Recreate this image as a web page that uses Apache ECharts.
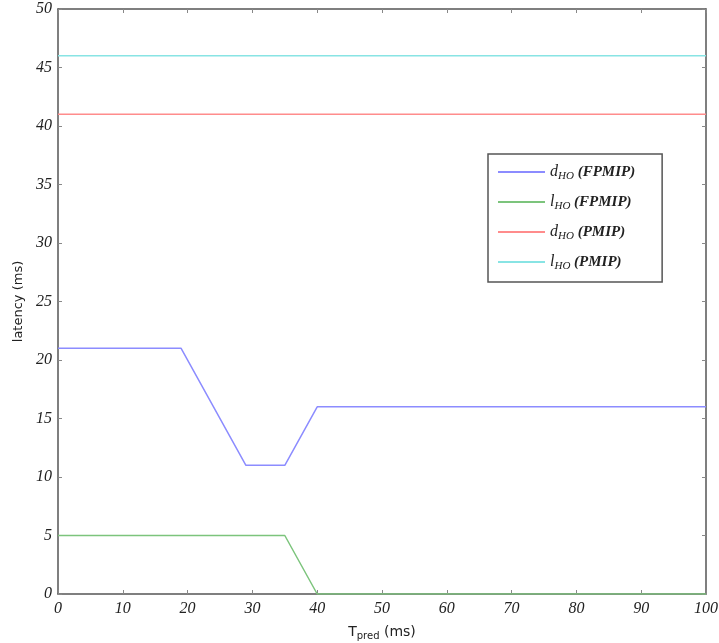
<!DOCTYPE html>
<html>
<head>
<meta charset="utf-8">
<script src="https://cdn.jsdelivr.net/npm/echarts@6/dist/echarts.min.js"></script>
<style>html,body{margin:0;padding:0;background:#fff;}#c{width:719px;height:643px;}</style>
</head>
<body>
<div id="c"></div>
<script>
var dFpmipX = [0, 19, 29, 35, 40, 100];
var dFpmipY = [21, 21, 11, 11, 16, 16];
var lFpmipX = [0, 35, 40, 100];
var lFpmipY = [5, 5, 0, 0];
var dPmipX = [0, 100];
var dPmipY = [41, 41];
var lPmipX = [0, 100];
var lPmipY = [46, 46];
var seriesNames = ['dHO (FPMIP)', 'lHO (FPMIP)', 'dHO (PMIP)', 'lHO (PMIP)'];
var legendLabels = {
  'dHO (FPMIP)': '{v|d}{s|HO}{t| (FPMIP)}',
  'lHO (FPMIP)': '{v|l}{s|HO}{t| (FPMIP)}',
  'dHO (PMIP)': '{v|d}{s|HO}{t| (PMIP)}',
  'lHO (PMIP)': '{v|l}{s|HO}{t| (PMIP)}'
};
var xTicks = [0, 10, 20, 30, 40, 50, 60, 70, 80, 90, 100];
var yTicks = [0, 5, 10, 15, 20, 25, 30, 35, 40, 45, 50];

function zip(xs, ys) { return xs.map(function (x, i) { return [x, ys[i]]; }); }

var chart = echarts.init(document.getElementById('c'));
var tickFont = { fontFamily: 'Liberation Serif', fontStyle: 'italic', fontSize: 16, color: '#222' };
var axisLine = { show: true, onZero: false, lineStyle: { color: '#555', width: 1.5 } };
var axisTick = { show: true, inside: true, length: 4, lineStyle: { color: '#888', width: 1 } };

chart.setOption({
  animation: false,
  backgroundColor: '#fff',
  grid: { left: 58, top: 9, right: 13, bottom: 49, outerBoundsMode: 'none', containLabel: false },
  xAxis: [
    {
      type: 'value', min: 0, max: 100, interval: 10, position: 'bottom',
      axisLine: axisLine, axisTick: axisTick, splitLine: { show: false },
      axisLabel: Object.assign({ margin: 7 }, tickFont),
      name: '{m|T}{s|pred}{m| (ms)}', nameLocation: 'middle', nameGap: 29,
      nameTextStyle: {
        rich: {
          m: { fontFamily: 'DejaVu Sans', fontSize: 14, color: '#222' },
          s: { fontFamily: 'DejaVu Sans', fontSize: 10, color: '#222', verticalAlign: 'bottom', padding: [8, 0, 0, 0] }
        }
      }
    },
    {
      type: 'value', min: 0, max: 100, interval: 10, position: 'top',
      axisLine: axisLine, axisTick: axisTick, splitLine: { show: false }, axisLabel: { show: false }
    }
  ],
  yAxis: [
    {
      type: 'value', min: 0, max: 50, interval: 5, position: 'left',
      axisLine: axisLine, axisTick: axisTick, splitLine: { show: false },
      axisLabel: Object.assign({ margin: 6 }, tickFont),
      name: 'latency (ms)', nameLocation: 'middle', nameGap: 31, nameRotate: 90,
      nameTextStyle: { fontFamily: 'DejaVu Sans', fontSize: 13, color: '#222' }
    },
    {
      type: 'value', min: 0, max: 50, interval: 5, position: 'right',
      axisLine: axisLine, axisTick: axisTick, splitLine: { show: false }, axisLabel: { show: false }
    }
  ],
  legend: {
    orient: 'vertical', left: 488, top: 154,
    data: seriesNames,
    backgroundColor: '#fff',
    borderColor: '#555', borderWidth: 1.5,
    padding: [10, 27, 10, 10],
    icon: 'path://M0 0H47V2H0Z',
    itemWidth: 47, itemHeight: 2, itemGap: 12,
    formatter: function (n) { return legendLabels[n]; },
    textStyle: {
      rich: {
        v: { fontFamily: 'Liberation Serif', fontStyle: 'italic', fontSize: 16, color: '#222', height: 18 },
        s: { fontFamily: 'Liberation Serif', fontStyle: 'italic', fontSize: 11, color: '#222', verticalAlign: 'bottom', padding: [9, 0, 0, 0] },
        t: { fontFamily: 'Liberation Serif', fontStyle: 'italic', fontWeight: 'bold', fontSize: 15, color: '#222' }
      }
    }
  },
  series: [
    { name: seriesNames[0], type: 'line', data: zip(dFpmipX, dFpmipY), showSymbol: false, symbol: 'none', lineStyle: { color: '#8c8cff', width: 1.5 }, itemStyle: { color: '#8c8cff' } },
    { name: seriesNames[1], type: 'line', data: zip(lFpmipX, lFpmipY), showSymbol: false, symbol: 'none', lineStyle: { color: '#7cc47c', width: 1.5 }, itemStyle: { color: '#7cc47c' } },
    { name: seriesNames[2], type: 'line', data: zip(dPmipX, dPmipY), showSymbol: false, symbol: 'none', lineStyle: { color: '#ff8c8c', width: 1.5 }, itemStyle: { color: '#ff8c8c' } },
    { name: seriesNames[3], type: 'line', data: zip(lPmipX, lPmipY), showSymbol: false, symbol: 'none', lineStyle: { color: '#88e4e4', width: 1.5 }, itemStyle: { color: '#88e4e4' } }
  ]
});
</script>
</body>
</html>
